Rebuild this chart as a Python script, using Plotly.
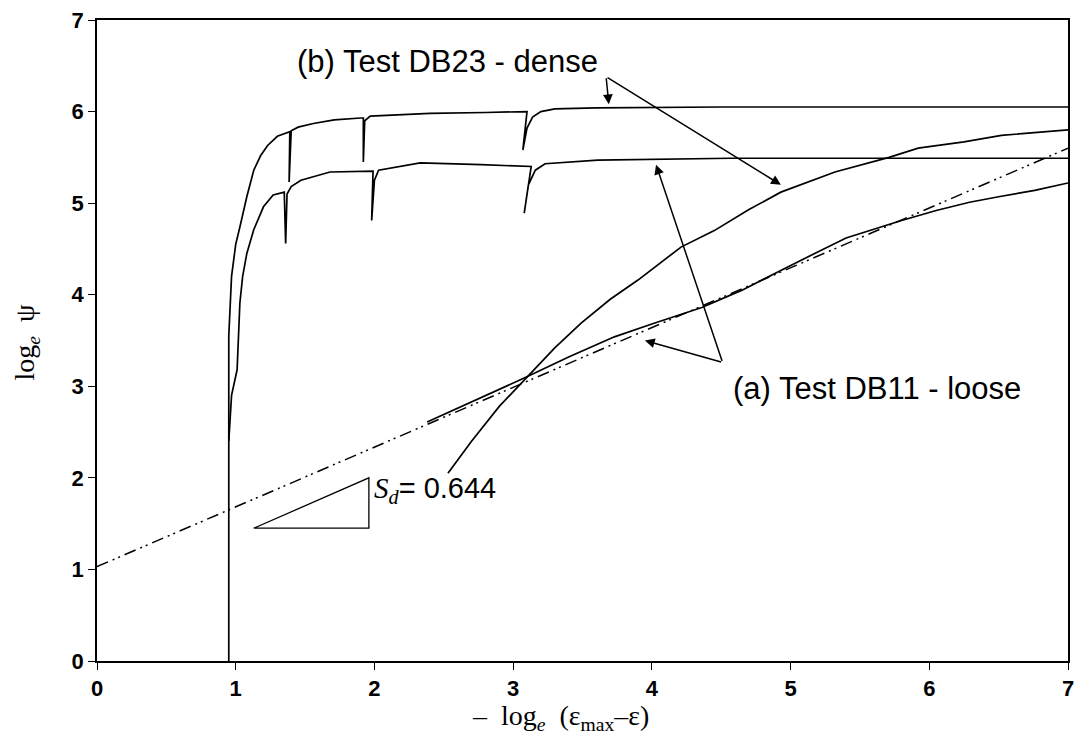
import plotly.graph_objects as go

# ---- data ----
dense_psi_x = [0.95, 0.95, 0.97, 1.00, 1.03, 1.08, 1.13, 1.18, 1.23, 1.30, 1.39, 1.385, 1.40, 1.45, 1.56,
               1.71, 1.90, 1.92, 1.92, 1.93, 1.97, 2.1, 2.4, 2.8, 3.10, 3.07, 3.10, 3.14, 3.20, 3.30, 3.60, 4.5, 7.0]
dense_psi_y = [0.0, 3.55, 4.2, 4.55, 4.74, 5.07, 5.36, 5.52, 5.63, 5.73, 5.78, 5.23, 5.79, 5.83, 5.87,
               5.91, 5.93, 5.93, 5.45, 5.90, 5.95, 5.96, 5.98, 5.99, 6.00, 5.58, 5.82, 5.94, 6.00, 6.03, 6.04, 6.05, 6.05]

loose_psi_x = [0.95, 0.97, 1.01, 1.03, 1.05, 1.08, 1.13, 1.20, 1.27, 1.35, 1.36, 1.37, 1.40, 1.47, 1.68, 1.99,
               1.98, 2.00, 2.03, 2.17, 2.33, 2.77, 3.13, 3.08, 3.11, 3.16, 3.23, 3.61, 4.57, 7.0]
loose_psi_y = [2.4, 2.9, 3.18, 3.91, 4.2, 4.45, 4.71, 4.96, 5.09, 5.12, 4.56, 5.10, 5.18, 5.25, 5.34, 5.35,
               4.81, 5.25, 5.36, 5.40, 5.44, 5.42, 5.40, 4.89, 5.20, 5.36, 5.43, 5.47, 5.49, 5.49]

dense_x = [2.53, 2.7, 2.9, 3.08, 3.3, 3.49, 3.7, 3.90, 4.21, 4.45, 4.7, 4.93, 5.32, 5.71, 5.92, 6.25, 6.52, 7.0]
dense_y = [2.05, 2.4, 2.78, 3.07, 3.42, 3.69, 3.95, 4.16, 4.52, 4.70, 4.93, 5.12, 5.34, 5.50, 5.60, 5.67, 5.74, 5.80]

loose_x = [2.38, 2.6, 2.85, 3.08, 3.4, 3.73, 4.0, 4.36, 4.65, 4.93, 5.08, 5.4, 5.80, 6.05, 6.29, 6.5, 6.76, 7.0]
loose_y = [2.61, 2.76, 2.93, 3.09, 3.32, 3.54, 3.68, 3.86, 4.05, 4.27, 4.38, 4.62, 4.81, 4.92, 5.01, 5.07, 5.14, 5.22]

fit_x = [0.0, 7.0]
fit_y = [1.03, 5.60]

tri_x = [1.13, 1.96, 1.96, 1.13]
tri_y = [1.45, 1.45, 2.00, 1.45]

x_ticks = [0, 1, 2, 3, 4, 5, 6, 7]
y_ticks = [0, 1, 2, 3, 4, 5, 6, 7]

label_b = "(b) Test DB23 - dense"
label_a = "(a) Test DB11 - loose"
label_b_pos = (2.53, 6.55)
label_a_pos = (5.62, 2.98)
arrows_b_tail = (3.67, 6.38)
arrows_b_tips = [(3.69, 6.08), (4.93, 5.20)]
arrows_a_tail = (4.51, 3.26)
arrows_a_tips = [(3.95, 3.50), (4.03, 5.42)]

x_title = "–&nbsp;&nbsp;log<sub><i>e</i></sub>&nbsp;&nbsp;(ε<sub>max</sub>–ε)"
y_title = "log<sub><i>e</i></sub>&nbsp;&nbsp;ψ"
slope_text = "<i>S<sub>d</sub></i><span style='font-family:Liberation Sans'>= 0.644</span>"

# ---- figure ----
line = dict(color="black", width=1.7)
fig = go.Figure()
for xs, ys in [(dense_psi_x, dense_psi_y), (loose_psi_x, loose_psi_y),
               (dense_x, dense_y), (loose_x, loose_y)]:
    fig.add_trace(go.Scatter(x=xs, y=ys, mode="lines", line=line, showlegend=False, hoverinfo="skip"))
fig.add_trace(go.Scatter(x=fit_x, y=fit_y, mode="lines",
                         line=dict(color="black", width=1.5, dash="12px,5px,2px,4px,2px,5px"),
                         showlegend=False, hoverinfo="skip"))
fig.add_trace(go.Scatter(x=tri_x, y=tri_y, mode="lines", line=dict(color="black", width=1.3),
                         showlegend=False, hoverinfo="skip"))

ann = []
sans = "Liberation Sans, Arial, sans-serif"
serif = "Liberation Serif, Times New Roman, serif"
ann.append(dict(x=label_b_pos[0], y=label_b_pos[1], text=label_b, showarrow=False,
                font=dict(family=sans, size=31, color="black")))
ann.append(dict(x=label_a_pos[0], y=label_a_pos[1], text=label_a, showarrow=False,
                font=dict(family=sans, size=31, color="black")))
for tail, tips in [(arrows_b_tail, arrows_b_tips), (arrows_a_tail, arrows_a_tips)]:
    for tip in tips:
        ann.append(dict(x=tip[0], y=tip[1], ax=tail[0], ay=tail[1], axref="x", ayref="y",
                        xref="x", yref="y", text="", showarrow=True, arrowhead=2,
                        arrowsize=1.3, arrowwidth=1.5, arrowcolor="black", standoff=0))
ann.append(dict(x=1.98, y=1.87, xanchor="left", yanchor="middle", showarrow=False,
                text=slope_text, font=dict(family=serif, size=29, color="black")))
ann.append(dict(x=3.34, y=-0.088, xref="x", yref="paper", xanchor="center", yanchor="middle",
                showarrow=False, text=x_title, font=dict(family=serif, size=28, color="black")))
ann.append(dict(x=-0.073, y=3.48, xref="paper", yref="y", xanchor="center", yanchor="middle",
                textangle=-90, showarrow=False, text=y_title,
                font=dict(family=serif, size=28, color="black")))

fig.update_layout(
    width=1079, height=742,
    margin=dict(l=97, r=5, t=20, b=81),
    plot_bgcolor="white", paper_bgcolor="white",
    annotations=ann,
    xaxis=dict(range=[0, 7], tickvals=x_ticks, showgrid=False, zeroline=False,
               showline=True, linecolor="black", linewidth=1.5, mirror=True,
               ticks="outside", ticklen=7, tickwidth=1.3, tickcolor="black",
               tickfont=dict(family=sans, size=22, color="black", weight="bold")),
    yaxis=dict(range=[0, 7], tickvals=y_ticks, showgrid=False, zeroline=False,
               showline=True, linecolor="black", linewidth=1.5, mirror=True,
               ticks="outside", ticklen=7, tickwidth=1.3, tickcolor="black",
               tickfont=dict(family=sans, size=22, color="black", weight="bold")),
)

fig.write_html("out.html", config={"displayModeBar": False},
               post_script="document.body.style.margin='0';")
